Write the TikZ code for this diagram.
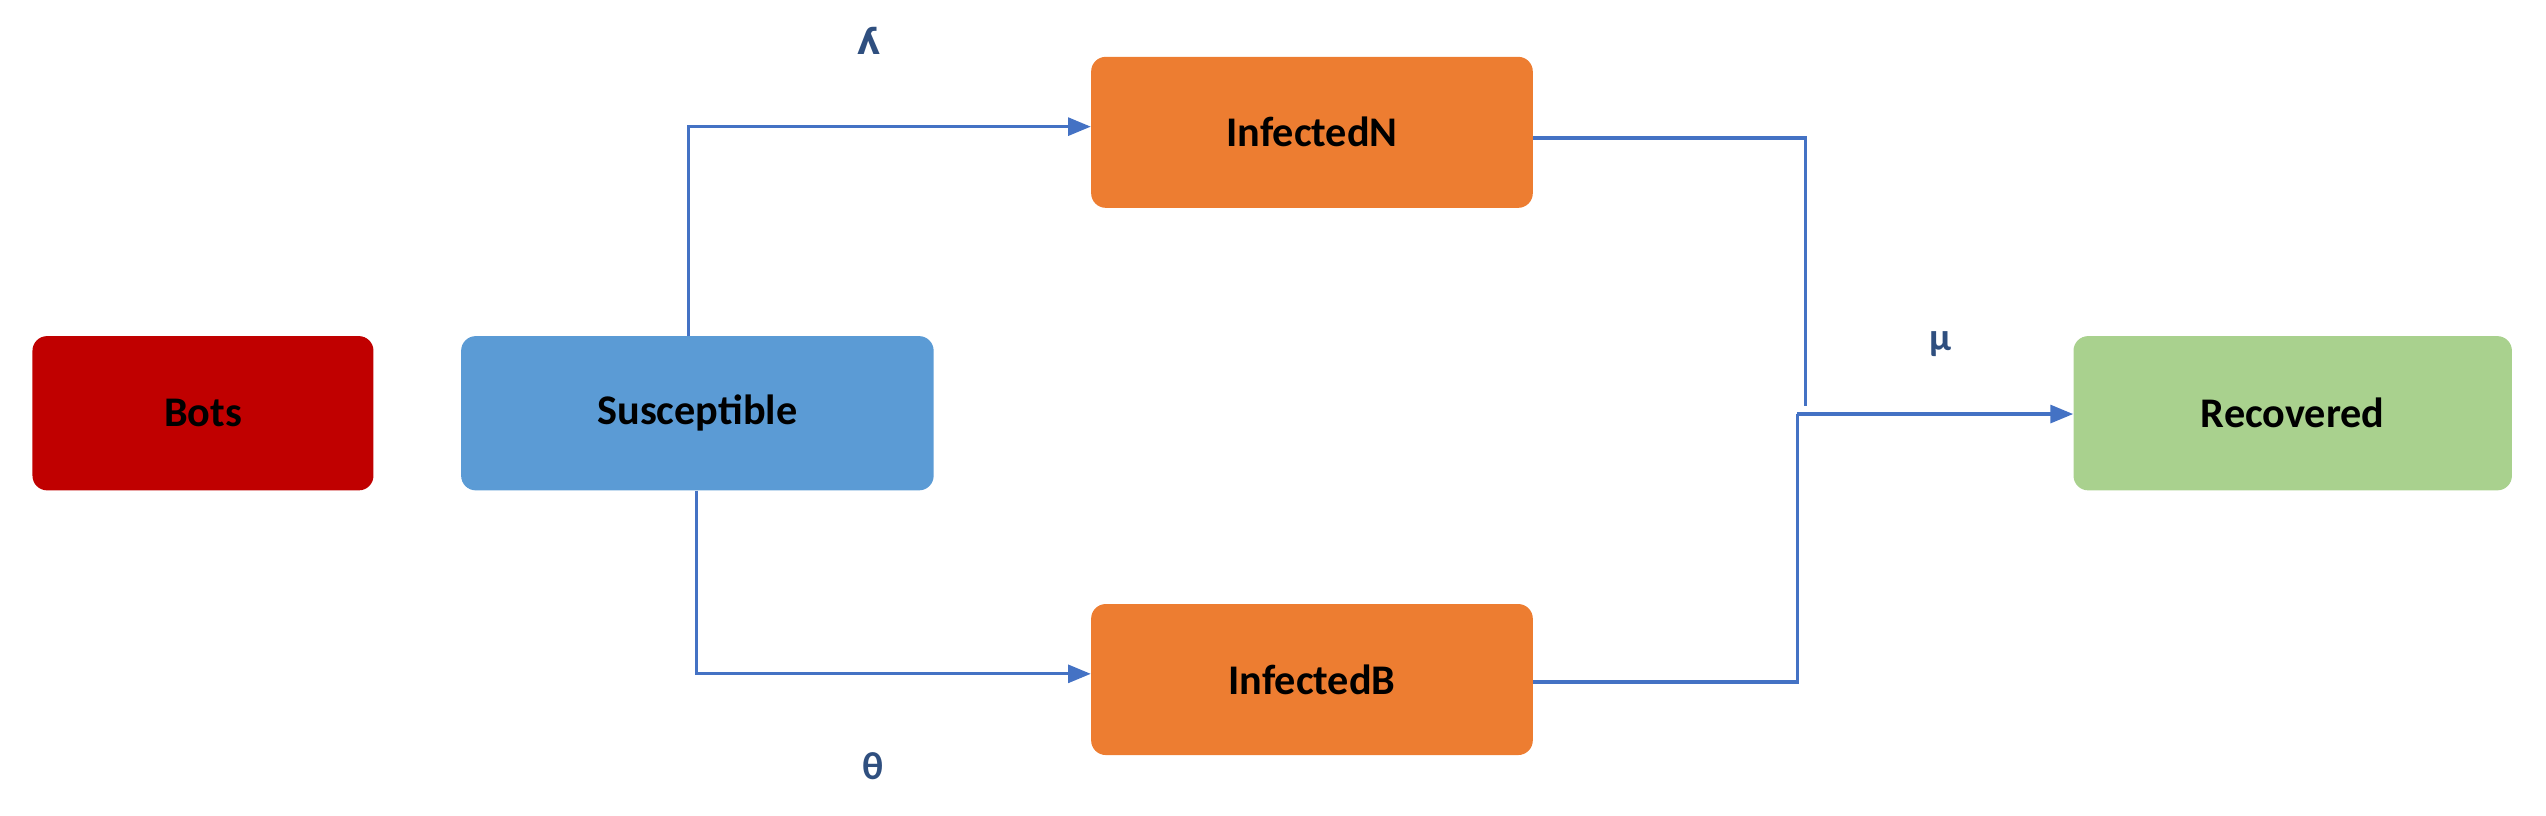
\documentclass[tikz,border=0pt]{standalone}
\usepackage{fontspec}
\setmainfont{Carlito}
\newfontfamily\dvs{DejaVu Sans}
\usetikzlibrary{arrows.meta}
\definecolor{cbots}{HTML}{C00000}
\definecolor{csus}{HTML}{5B9BD5}
\definecolor{cinf}{HTML}{ED7D31}
\definecolor{crec}{HTML}{A9D18E}
\definecolor{cline}{HTML}{4472C4}
\definecolor{clab}{HTML}{2F4F7F}
\begin{document}
\begin{tikzpicture}[x=1pt,y=-1pt,
 box/.style={rounded corners=9pt,minimum width=#1,minimum height=95pt,inner sep=0pt,font=\fontsize{26}{30}\selectfont\bfseries},
 conn/.style={draw=cline,line width=2pt},
 arr/.style={conn,-{Triangle[length=14pt,width=11pt]}},
 lab/.style={text=clab,font=\fontsize{24}{28}\selectfont\bfseries}]
\useasboundingbox (0,0) rectangle (1568,502);
\node[box=210pt,fill=cbots] (bots) at (125,254.5) {Bots};
\node[box=291pt,fill=csus] (sus) at (429.5,254.5) {Susceptible};
\node[box=272pt,fill=cinf,minimum height=93pt] (in) at (808,81.5) {InfectedN};
\node[box=272pt,fill=cinf,minimum height=93pt] (ib) at (808,418.5) {InfectedB};
\node[box=270pt,fill=crec] (rec) at (1412,254.5) {Recovered};
\coordinate (j) at (1107,255);
\draw[arr] (sus.north -| 424,0) |- (in.west |- 0,78);
\draw[arr] (sus.south -| 429,0) |- (ib.west |- 0,415);
\draw[conn] (in.east |- 0,85) -| (1112,250);
\draw[conn] (ib.east |- 0,420) -| (j);
\draw[arr] (j) -- (rec.west |- j);
\node[lab,font=\dvs\fontsize{22}{26}\selectfont\bfseries] (l1) at (535,25) {ʎ};
\node[lab] (l2) at (538,472) {θ};
\node[lab] (l3) at (1195,212) {μ};
\end{tikzpicture}
\end{document}
